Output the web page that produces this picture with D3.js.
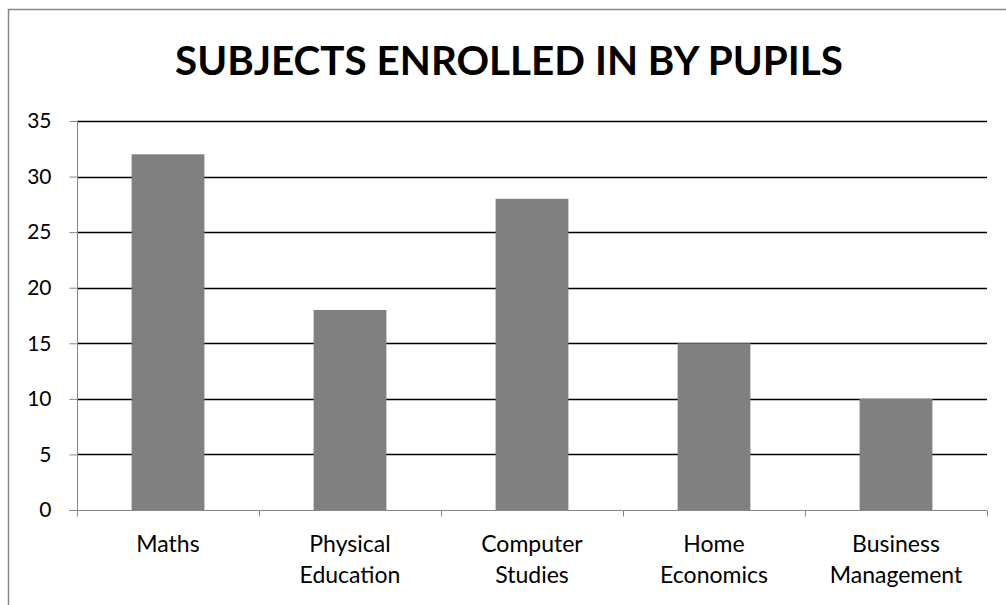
<!DOCTYPE html>
<html>
<head>
<meta charset="utf-8">
<script src="https://cdn.jsdelivr.net/npm/d3@7"></script>
<style>
  html, body { margin: 0; padding: 0; background: #fff; overflow: hidden; }
  svg { display: block; }
</style>
</head>
<body>
<svg id="chart" width="1006" height="605"></svg>
<script>
const categories = [["Maths"], ["Physical", "Education"], ["Computer", "Studies"], ["Home", "Economics"], ["Business", "Management"]];
const values = [32, 18, 28, 15, 10];
const yTicks = [0, 5, 10, 15, 20, 25, 30, 35];
const title = "SUBJECTS ENROLLED IN BY PUPILS";

const svg = d3.select("#chart");
const font = "Lato, 'Open Sans', sans-serif";

// outer border (clipped at right/bottom like the reference)
svg.append("rect")
  .attr("x", 8.5).attr("y", 9.5)
  .attr("width", 1100).attr("height", 700)
  .attr("fill", "none").attr("stroke", "#878787").attr("stroke-width", 1.5);

const pLeft = 77, pRight = 987, pTop = 121, pBottom = 510;
const keys = categories.map(c => c.join(" "));
const x = d3.scaleBand().domain(keys).range([pLeft, pRight]).paddingInner(0.6).paddingOuter(0.3);
const xb = d3.scaleBand().domain(keys).range([pLeft, pRight]);
const y = d3.scaleLinear().domain([0, 35]).range([pBottom, pTop]);

// title
svg.append("text")
  .attr("x", 509).attr("y", 75)
  .attr("text-anchor", "middle")
  .attr("font-family", font).attr("font-weight", "bold")
  .attr("font-size", 41)
  .attr("textLength", 668).attr("lengthAdjust", "spacingAndGlyphs")
  .attr("fill", "#000")
  .text(title);

// gridlines
svg.append("g").selectAll("line").data(yTicks.filter(t => t > 0)).join("line")
  .attr("x1", pLeft).attr("x2", pRight)
  .attr("y1", d => Math.round(y(d)) + 0.5).attr("y2", d => Math.round(y(d)) + 0.5)
  .attr("stroke", "#000").attr("stroke-width", 1.4);

// bars
svg.append("g").selectAll("rect").data(values).join("rect")
  .attr("x", (d, i) => x(keys[i]))
  .attr("width", x.bandwidth())
  .attr("y", d => y(d))
  .attr("height", d => y(0) - y(d))
  .attr("fill", "#808080");

// y axis
const yAxis = svg.append("g").attr("transform", `translate(${pLeft + 0.5},0)`)
  .call(d3.axisLeft(y).tickValues(yTicks).tickSize(8).tickPadding(18));
yAxis.select(".domain").attr("stroke", "#868686").attr("d", `M0,${pTop}V${pBottom + 6}`);
yAxis.selectAll(".tick line").attr("stroke", "#868686");
yAxis.selectAll(".tick text").attr("font-family", font).attr("font-size", 21).attr("fill", "#000");

// x axis
const xAxisG = svg.append("g").attr("transform", `translate(0,${pBottom + 0.5})`);
xAxisG.append("line").attr("x1", pLeft - 8).attr("x2", pRight).attr("stroke", "#868686");
const bounds = keys.map(k => xb(k)).concat([pRight]);
xAxisG.selectAll("line.tk").data(bounds).join("line").attr("class", "tk")
  .attr("x1", d => Math.round(d) + 0.5).attr("x2", d => Math.round(d) + 0.5)
  .attr("y1", 0).attr("y2", 6).attr("stroke", "#868686");

// category labels
const lab = svg.append("g");
categories.forEach((lines, i) => {
  const cx = xb(keys[i]) + xb.bandwidth() / 2;
  const t = lab.append("text").attr("text-anchor", "middle")
    .attr("font-family", font).attr("font-size", 23).attr("fill", "#000");
  lines.forEach((ln, j) => {
    t.append("tspan").attr("x", cx).attr("y", 552 + j * 31).text(ln);
  });
});
</script>
</body>
</html>
